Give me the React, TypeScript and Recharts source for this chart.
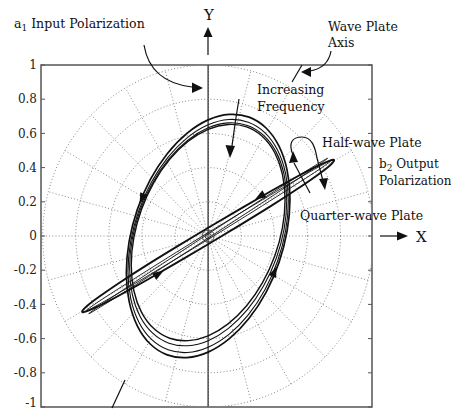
import React from 'react';
import { ScatterChart, Scatter, XAxis, YAxis, ReferenceLine, ReferenceArea } from 'recharts';

// ---- tick labels / grid ----
const yTicks = [1, 0.8, 0.6, 0.4, 0.2, 0, -0.2, -0.4, -0.6, -0.8, -1];
const gridRadii = [0.2, 0.4, 0.6, 0.8, 1];
const spokeAngles = [0, 15, 30, 45, 60, 75, 90, 105, 120, 135, 150, 165];

// ---- wide (elliptical) output loops ----
const loopAX = [0.5, 0.483, 0.433, 0.354, 0.25, 0.13, 0, -0.13, -0.25, -0.354, -0.433, -0.483, -0.5, -0.483, -0.433, -0.354, -0.25, -0.13, 0, 0.13, 0.25, 0.354, 0.433, 0.483];
const loopAY = [0.217, 0.387, 0.531, 0.639, 0.703, 0.719, 0.687, 0.607, 0.487, 0.333, 0.156, -0.032, -0.217, -0.387, -0.531, -0.639, -0.703, -0.719, -0.687, -0.607, -0.487, -0.333, -0.156, 0.032];
const loopBX = [0.49, 0.473, 0.424, 0.346, 0.245, 0.127, 0, -0.127, -0.245, -0.346, -0.424, -0.473, -0.49, -0.473, -0.424, -0.346, -0.245, -0.127, 0, 0.127, 0.245, 0.346, 0.424, 0.473];
const loopBY = [0.208, 0.371, 0.509, 0.612, 0.673, 0.689, 0.658, 0.582, 0.466, 0.319, 0.149, -0.03, -0.208, -0.371, -0.509, -0.612, -0.673, -0.689, -0.658, -0.582, -0.466, -0.319, -0.149, 0.03];
const loopCX = [0.48, 0.464, 0.416, 0.339, 0.24, 0.124, 0, -0.124, -0.24, -0.339, -0.416, -0.464, -0.48, -0.464, -0.416, -0.339, -0.24, -0.124, 0, 0.124, 0.24, 0.339, 0.416, 0.464];
const loopCY = [0.209, 0.364, 0.496, 0.595, 0.654, 0.669, 0.64, 0.566, 0.456, 0.315, 0.153, -0.019, -0.189, -0.344, -0.476, -0.575, -0.634, -0.649, -0.62, -0.546, -0.436, -0.295, -0.133, 0.039];
const loopDX = [0.47, 0.454, 0.407, 0.332, 0.235, 0.122, 0, -0.122, -0.235, -0.332, -0.407, -0.454, -0.47, -0.454, -0.407, -0.332, -0.235, -0.122, 0, 0.122, 0.235, 0.332, 0.407, 0.454];
const loopDY = [0.213, 0.364, 0.492, 0.588, 0.645, 0.659, 0.631, 0.56, 0.453, 0.316, 0.158, -0.008, -0.173, -0.324, -0.452, -0.548, -0.605, -0.619, -0.591, -0.52, -0.413, -0.276, -0.118, 0.048];

// ---- thin (nearly linear) output loops ----
const thinAX = [0.77, 0.744, 0.667, 0.544, 0.385, 0.199, 0, -0.199, -0.385, -0.544, -0.667, -0.744, -0.77, -0.744, -0.667, -0.544, -0.385, -0.199, 0, 0.199, 0.385, 0.544, 0.667, 0.744];
const thinAY = [0.448, 0.446, 0.414, 0.352, 0.266, 0.162, 0.049, -0.068, -0.178, -0.278, -0.36, -0.417, -0.448, -0.446, -0.414, -0.352, -0.266, -0.162, -0.049, 0.068, 0.178, 0.278, 0.36, 0.417];
const thinBX = [0.75, 0.724, 0.65, 0.53, 0.375, 0.194, 0, -0.194, -0.375, -0.53, -0.65, -0.724, -0.75, -0.724, -0.65, -0.53, -0.375, -0.194, 0, 0.194, 0.375, 0.53, 0.65, 0.724];
const thinBY = [0.445, 0.434, 0.395, 0.328, 0.239, 0.134, 0.02, -0.096, -0.206, -0.301, -0.375, -0.425, -0.445, -0.434, -0.395, -0.328, -0.239, -0.134, -0.02, 0.096, 0.206, 0.301, 0.375, 0.425];
const thinCX = [0.73, 0.705, 0.632, 0.516, 0.365, 0.189, 0, -0.189, -0.365, -0.516, -0.632, -0.705, -0.73, -0.705, -0.632, -0.516, -0.365, -0.189, 0, 0.189, 0.365, 0.516, 0.632, 0.705];
const thinCY = [0.46, 0.447, 0.404, 0.334, 0.24, 0.131, 0.012, -0.107, -0.219, -0.316, -0.392, -0.441, -0.46, -0.447, -0.404, -0.334, -0.24, -0.131, -0.012, 0.107, 0.219, 0.316, 0.392, 0.441];

// ---- direction arrowheads on the loops (position + screen angle) ----
const arrowX = [-0.4, 0.4, 0.314, -0.3];
const arrowY = [0.22, -0.21, 0.232, -0.222];
const arrowAngle = [113, -67, 149, -31];

const pts = (xs: number[], ys: number[]) => xs.map((x, i) => ({ x, y: ys[i] }));
const circle = (r: number) =>
  Array.from({ length: 121 }, (_, i) => {
    const a = (i * 3 * Math.PI) / 180;
    return { x: r * Math.cos(a), y: r * Math.sin(a) };
  });
const spoke = (deg: number) => {
  const a = (deg * Math.PI) / 180;
  return [
    { x: -Math.cos(a), y: -Math.sin(a) },
    { x: Math.cos(a), y: Math.sin(a) },
  ];
};

const wideLoops = [
  { d: pts(loopAX, loopAY), w: 1.7 },
  { d: pts(loopBX, loopBY), w: 1.1 },
  { d: pts(loopCX, loopCY), w: 1.1 },
  { d: pts(loopDX, loopDY), w: 1.4 },
];
const thinLoops = [
  { d: pts(thinAX, thinAY), w: 1.9 },
  { d: pts(thinBX, thinBY), w: 0.9 },
  { d: pts(thinCX, thinCY), w: 0.9 },
];
const arrows = arrowX.map((x, i) => ({ x, y: arrowY[i], angle: arrowAngle[i] }));

const none = () => <g />;
const INK = '#111';
const GRID = { stroke: '#8a8a8a', strokeWidth: 1, strokeDasharray: '1 2.2' };
const FONT = "'DejaVu Serif', serif";

const YTick = (props: any) => {
  const { x, y, payload } = props;
  const ty = payload.value === -1 ? y - 4 : y;
  return (
    <g>
      <text x={x} y={ty} dy="0.35em" textAnchor="end" fontFamily={FONT} fontSize={12} fill="#222">
        {payload.value}
      </text>
      <line x1={x + 4} x2={x + 8} y1={y} y2={y} stroke="#555" strokeWidth={1} />
      <line x1={x + 4 + 331} x2={x + 4 + 327} y1={y} y2={y} stroke="#555" strokeWidth={1} />
    </g>
  );
};

const ArrowHead = (props: any) => {
  const { cx, cy, payload } = props;
  return (
    <polygon
      points="6,0 -5,-4 -5,4"
      fill={INK}
      transform={`translate(${cx},${cy}) rotate(${payload.angle})`}
    />
  );
};

const OriginMark = (props: any) => (
  <g fill="none" stroke="#333" strokeWidth={0.8}>
    <circle cx={props.cx} cy={props.cy} r={3} />
    <circle cx={props.cx} cy={props.cy} r={6} />
  </g>
);

const T = (p: any) => <text fontFamily={FONT} fontSize={12.5} fill={INK} {...p} />;

export default function App() {
  return (
    <div style={{ position: 'relative', width: 451, height: 402 }}>
      <ScatterChart width={451} height={402} margin={{ top: 57, right: 87, bottom: 3, left: 0 }}>
        <XAxis type="number" dataKey="x" domain={[-1.01, 0.99]} allowDataOverflow hide />
        <YAxis
          type="number"
          dataKey="y"
          domain={[-1, 1]}
          ticks={yTicks}
          allowDataOverflow
          width={33}
          axisLine={false}
          tickLine={false}
          tickSize={0}
          tickMargin={4}
          tick={<YTick />}
          interval={0}
        />
        {gridRadii.map((r) => (
          <Scatter key={'c' + r} data={circle(r)} shape={none} line={GRID} isAnimationActive={false} />
        ))}
        {spokeAngles.map((a) => (
          <Scatter key={'s' + a} data={spoke(a)} shape={none} line={GRID} isAnimationActive={false} />
        ))}
        <ReferenceLine x={0} stroke="#444" strokeWidth={1.5} />
        <ReferenceArea x1={-1.01} x2={0.99} y1={-1} y2={1} fill="none" stroke="#555" strokeWidth={1.5} />
        {wideLoops.map((l, i) => (
          <Scatter key={'w' + i} data={l.d} shape={none} lineJointType="basisClosed" line={{ stroke: INK, strokeWidth: l.w, fill: 'none' }} isAnimationActive={false} />
        ))}
        {thinLoops.map((l, i) => (
          <Scatter key={'t' + i} data={l.d} shape={none} lineJointType="basisClosed" line={{ stroke: INK, strokeWidth: l.w, fill: 'none' }} isAnimationActive={false} />
        ))}
        <Scatter data={arrows} shape={<ArrowHead />} isAnimationActive={false} />
        <Scatter data={[{ x: 0, y: 0 }]} shape={<OriginMark />} isAnimationActive={false} />
      </ScatterChart>
      <svg
        width={459}
        height={410}
        style={{ position: 'absolute', left: -8, top: -8, pointerEvents: 'none' }}
      >
        <g stroke={INK} fill="none" strokeWidth={1.2}>
          <path d="M144,45 Q150,82 192,87" />
          <line x1={208} y1={55} x2={208} y2={36} />
          <path d="M331,51 Q328,68 310,71" />
          <line x1={302} y1={65} x2={292} y2={82} />
          <line x1={112} y1={408} x2={125} y2={380} />
          <path d="M239,99 Q235,122 232,146" />
          <line x1={310} y1={193} x2={294} y2={163} />
          <path d="M293,155 C288,143 292,137 302,137 C312,137 315,147 317,158 L323,181" />
          <line x1={380} y1={236} x2={398} y2={236} />
        </g>
        <g fill={INK}>
          <polygon points="203,88 192,82.5 192,93" />
          <polygon points="208,27 203.5,37 212.5,37" />
          <polygon points="301,72 311,67 311,77" />
          <polygon points="230,158 225.5,145 235,146" />
          <polygon points="293,151 289,163 298,162" />
          <polygon points="325,190 319,179 328,178" />
          <polygon points="408,236 397,231.5 397,240.5" />
        </g>
        <T x={14} y={28}>
          a<tspan fontSize={9} dy={3}>1</tspan>
          <tspan dy={-3}> Input Polarization</tspan>
        </T>
        <T x={209} y={20} textAnchor="middle" fontSize={15}>Y</T>
        <T x={328} y={31}>Wave Plate</T>
        <T x={328} y={47}>Axis</T>
        <T x={257} y={94}>Increasing</T>
        <T x={257} y={111}>Frequency</T>
        <T x={322} y={147}>Half-wave Plate</T>
        <T x={379} y={168} fontSize={12}>
          b<tspan fontSize={9} dy={3}>2</tspan>
          <tspan dy={-3}> Output</tspan>
        </T>
        <T x={379} y={185} fontSize={12}>Polarization</T>
        <T x={300} y={220}>Quarter-wave Plate</T>
        <T x={416} y={242} fontSize={15}>X</T>
      </svg>
    </div>
  );
}
